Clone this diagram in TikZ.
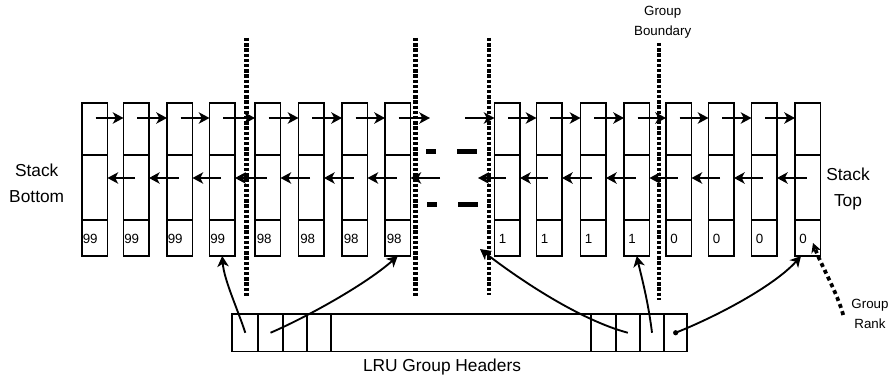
\documentclass[tikz,border=0pt]{standalone}
\usepackage{fontspec}
\setmainfont{Liberation Sans}
\usetikzlibrary{arrows.meta,calc}
\begin{document}
\begin{tikzpicture}[x=0.75pt,y=-0.75pt,
  box/.style={draw,line width=1.4pt,minimum width=19.1pt,minimum height=114.75pt,inner sep=0pt,outer sep=0pt,anchor=north west},
  divline/.style={line width=1.3pt},
  arr/.style={line width=1.4pt,-{Stealth[length=8pt,width=8.5pt,inset=2.2pt]}},
  bound/.style={line width=3.4pt,dash pattern=on 2.5pt off 1.4pt},
  rankline/.style={line width=2.8pt,dash pattern=on 3pt off 2.6pt,-{Stealth[length=7pt,width=7.5pt,inset=2pt]}},
  num/.style={font=\fontsize{10}{12}\selectfont,inner sep=0pt,anchor=west},
  bigtext/.style={font=\fontsize{13}{19.5}\selectfont,align=center,inner sep=0pt},
  smalltext/.style={font=\fontsize{10}{15.2}\selectfont,align=center,inner sep=0pt},
  hcell/.style={draw,line width=1.4pt,minimum height=28.125pt,inner sep=0pt,outer sep=0pt,anchor=north west},
  gapmark/.style={fill=black}
]
\path[use as bounding box] (0,0) rectangle (889,381);

% reference heights
\coordinate (yR) at (0,118);
\coordinate (yL) at (0,178);
\coordinate (yA) at (0,155);
\coordinate (yB) at (0,220);
\coordinate (yT) at (0,238.5);

% stack entries
\foreach \i/\L/\t/\o in {1/82/99/0.5,2/123.5/99/0.5,3/167/99/0.5,4/209.5/99/0.5,
  5/255/98/1.5,6/298.5/98/1.5,7/342/98/1.5,8/385/98/1.5,
  9/494.5/1/4,10/536.5/1/4,11/580.5/1/4,12/624/1/4,
  13/666/0/4,14/708.5/0/4,15/751.5/0/4,16/795/0/4}{
  \node[box] (b\i) at (\L,103) {};
  \draw[divline] (b\i.west |- yA) -- (b\i.east |- yA);
  \draw[divline] (b\i.west |- yB) -- (b\i.east |- yB);
  \node[num] (t\i) at ($(b\i.west |- yT)+(\o,0)$) {\t};
}

% next / prev pointers
\foreach \i/\j in {1/2,2/3,3/4,4/5,5/6,6/7,7/8,9/10,10/11,11/12,12/13,13/14,14/15,15/16}{
  \draw[arr] ($(b\i.center |- yR)+(1,0)$) -- (b\j.west |- yR);
  \draw[arr] ($(b\j.center |- yL)+(-1,0)$) -- (b\i.east |- yL);
}

% pointers into the gap
\coordinate (g1) at (430,118);
\coordinate (g2) at (440,178);
\coordinate (g3) at (465,118);
\coordinate (g4) at (478,178);
\draw[arr] ($(b8.center |- yR)+(1,0)$) -- (g1);
\draw[arr] (g2) -- (b8.east |- yL);
\draw[arr] (g3) -- (b9.west |- yR);
\draw[arr] ($(b9.center |- yL)+(-1,0)$) -- (g4);

% gap marks
\fill[gapmark] (425.7,149) rectangle (435.7,154.5);
\fill[gapmark] (456.7,149) rectangle (477.3,154.5);
\fill[gapmark] (426.7,202) rectangle (436.5,207.5);
\fill[gapmark] (457.7,202) rectangle (478.3,207.5);

% group boundaries
\draw[bound] (246.5,38) -- (246.5,296);
\draw[bound] (415.5,38) -- (415.5,297);
\draw[bound] (489,38) -- (489,295);
\draw[bound] (659,43) -- (659,300);

% LRU group headers
\foreach \i/\a/\w in {1/232.3/19.5pt,2/258.3/18.3pt,3/282.7/18pt,4/306.7/18.225pt,
  5/331/194.775pt,6/590.7/18.75pt,7/615.7/18.225pt,8/640/18pt,9/664/17.475pt}{
  \node[hcell,minimum width=\w] (h\i) at (\a,314) {};
}

\coordinate (gapTip) at (480,249);
\coordinate (r16) at ($(b16.south west)+(6,0)$);

\draw[arr] (h1.center) .. controls (238,310) and (224,280) .. (b4.south);
\draw[arr] (h2.center) .. controls (305,318) and (365,285) .. (b8.south);
\draw[arr] (h7.center) .. controls (580,320) and (520,280) .. (gapTip);
\draw[arr] (h8.center) .. controls (648,300) and (641,275) .. (b12.south);
\fill (h9.center) circle (2.6);
\draw[arr] (h9.center) .. controls (720,315) and (775,285) .. (r16);

% texts
\node[bigtext] (sb) at (36.7,183) {Stack\\Bottom};
\node[bigtext] (st) at (848,189) {Stack\\Top};
\node[smalltext] (gb) at (662.7,22) {Group\\Boundary};
\node[smalltext] (grk) at (870,314) {Group\\Rank};
\node[bigtext] (lru) at (442,366.7) {LRU Group Headers};

\coordinate (rankTip) at (813,243);
\draw[rankline] ($(grk.west)+(-8,1)$) .. controls (837,292) and (821,265) .. (rankTip);
\end{tikzpicture}
\end{document}
